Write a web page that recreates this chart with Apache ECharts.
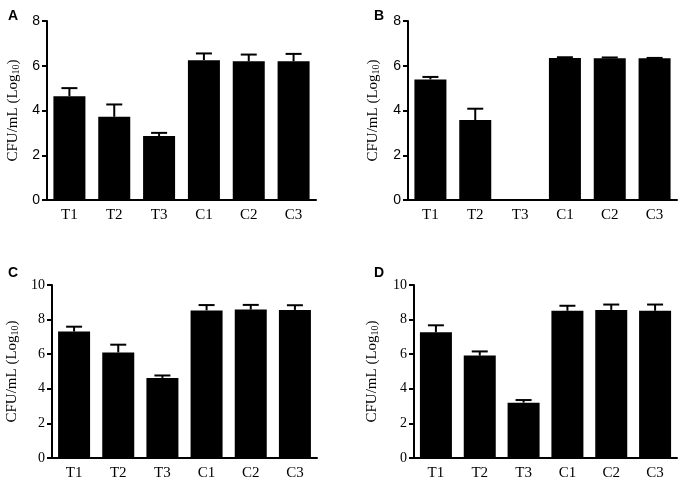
<!DOCTYPE html>
<html>
<head>
<meta charset="utf-8">
<script src="https://cdn.jsdelivr.net/npm/echarts@6/dist/echarts.min.js"></script>
<style>
html,body{margin:0;padding:0;background:#fff;}
#chart{width:680px;height:481px;}
</style>
</head>
<body>
<div id="chart"></div>
<script>
var categories = ['T1', 'T2', 'T3', 'C1', 'C2', 'C3'];
var panelLabels = ['A', 'B', 'C', 'D'];
var valuesA = [4.64, 3.72, 2.86, 6.25, 6.20, 6.20];
var errorsA = [0.36, 0.55, 0.14, 0.30, 0.30, 0.33];
var valuesB = [5.39, 3.57, 0, 6.35, 6.33, 6.33];
var errorsB = [0.11, 0.51, 0, 0.03, 0.04, 0.02];
var valuesC = [7.31, 6.10, 4.63, 8.53, 8.58, 8.56];
var errorsC = [0.28, 0.45, 0.14, 0.31, 0.27, 0.27];
var valuesD = [7.27, 5.92, 3.20, 8.51, 8.56, 8.51];
var errorsD = [0.40, 0.24, 0.15, 0.29, 0.31, 0.36];
var yMaxTop = 8;
var yMaxBottom = 10;
var yInterval = 2;

var serif = '"Liberation Serif", "Times New Roman", serif';
var sans = '"Liberation Sans", Arial, sans-serif';

var grids = [
  {left: 47, top: 21, width: 269, height: 179},
  {left: 408, top: 21, width: 269, height: 179},
  {left: 52, top: 285, width: 265, height: 173},
  {left: 414, top: 285, width: 263, height: 174}
];
var panels = [
  {vals: valuesA, errs: errorsA, max: yMaxTop, yFont: sans, nameGap: 26},
  {vals: valuesB, errs: errorsB, max: yMaxTop, yFont: sans, nameGap: 27},
  {vals: valuesC, errs: errorsC, max: yMaxBottom, yFont: serif, nameGap: 32},
  {vals: valuesD, errs: errorsD, max: yMaxBottom, yFont: serif, nameGap: 34}
];
var letterPos = [[3, 4], [369, 4], [3, 261], [369, 261]];

function renderErr(params, api) {
  var x = api.value(0), m = api.value(1), e = api.value(2);
  if (!e) return null;
  var p0 = api.coord([x, m]);
  var p1 = api.coord([x, m + e]);
  var hw = 8;
  return {
    type: 'group',
    children: [
      {type: 'line', shape: {x1: p0[0], y1: p0[1], x2: p1[0], y2: p1[1]}, style: {stroke: '#000', lineWidth: 2}},
      {type: 'line', shape: {x1: p1[0] - hw, y1: p1[1], x2: p1[0] + hw, y2: p1[1]}, style: {stroke: '#000', lineWidth: 2}}
    ]
  };
}

var xAxes = [], yAxes = [], series = [], titles = [];
panels.forEach(function (p, i) {
  xAxes.push({
    type: 'category', gridIndex: i, data: categories,
    axisLine: {lineStyle: {color: '#000', width: 2}},
    axisTick: {alignWithLabel: true, length: 5, lineStyle: {color: '#000', width: 2}},
    axisLabel: {color: '#000', fontFamily: serif, fontSize: 15, margin: 8},
    splitLine: {show: false}
  });
  yAxes.push({
    type: 'value', gridIndex: i, min: 0, max: p.max, interval: yInterval,
    name: 'CFU/mL (Log{sub|10})', nameLocation: 'middle', nameGap: p.nameGap,
    nameTextStyle: {
      color: '#000', fontFamily: serif, fontSize: 15,
      rich: {sub: {fontFamily: serif, fontSize: 10, verticalAlign: 'bottom', padding: [5, 0, 0, 0]}}
    },
    axisLine: {show: true, lineStyle: {color: '#000', width: 2}},
    axisTick: {show: true, length: 5, lineStyle: {color: '#000', width: 2}},
    axisLabel: {color: '#000', fontFamily: p.yFont, fontSize: 14, margin: 7},
    splitLine: {show: false}
  });
  series.push({
    type: 'bar', xAxisIndex: i, yAxisIndex: i, data: p.vals, barWidth: 32,
    itemStyle: {color: '#000'}, silent: true, animation: false
  });
  series.push({
    type: 'custom', xAxisIndex: i, yAxisIndex: i, renderItem: renderErr, z: 5,
    data: p.vals.map(function (v, k) { return [k, v, p.errs[k]]; }),
    silent: true, animation: false
  });
  titles.push({
    text: panelLabels[i], left: letterPos[i][0], top: letterPos[i][1],
    textStyle: {fontFamily: sans, fontWeight: 'bold', fontSize: 14, color: '#000'}
  });
});

var chart = echarts.init(document.getElementById('chart'), null, {renderer: 'canvas'});
chart.setOption({
  animation: false,
  backgroundColor: '#fff',
  title: titles,
  grid: grids,
  xAxis: xAxes,
  yAxis: yAxes,
  series: series
});
</script>
</body>
</html>
